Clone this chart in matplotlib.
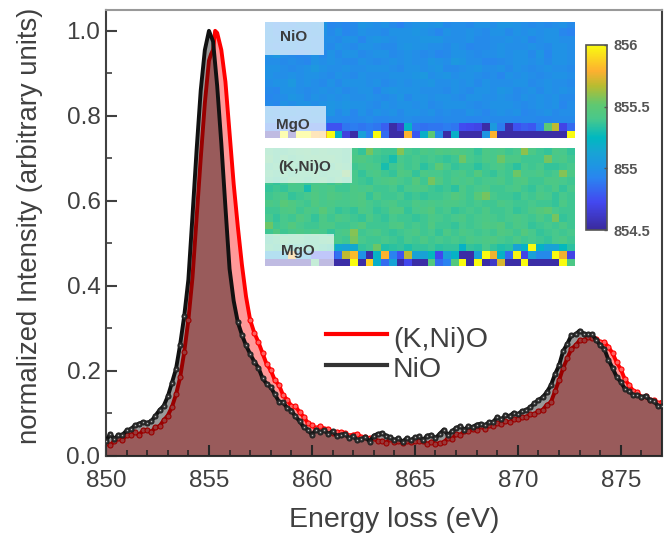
import numpy as np
import matplotlib
matplotlib.use('Agg')
import matplotlib.pyplot as plt
from matplotlib.colors import LinearSegmentedColormap
from matplotlib.patches import Rectangle
from matplotlib.ticker import MultipleLocator

plt.rcParams['font.family'] = ['Liberation Sans', 'DejaVu Sans']

# spectra
energy_nio = [850.0,850.2,850.4,850.6,850.8,851.0,851.2,851.4,851.6,851.8,852.0,852.2,852.4,852.6,852.8,853.0,853.2,853.4,853.6,853.8,
 854.0,854.2,854.4,854.6,854.8,855.0,855.2,855.4,855.6,855.8,856.0,856.2,856.4,856.6,856.8,857.0,857.2,857.4,857.6,857.8,
 858.0,858.2,858.4,858.6,858.8,859.0,859.2,859.4,859.6,859.8,860.0,860.2,860.4,860.6,860.8,861.0,861.2,861.4,861.6,861.8,
 862.0,862.2,862.4,862.6,862.8,863.0,863.2,863.4,863.6,863.8,864.0,864.2,864.4,864.6,864.8,865.0,865.2,865.4,865.6,865.8,
 866.0,866.2,866.4,866.6,866.8,867.0,867.2,867.4,867.6,867.8,868.0,868.2,868.4,868.6,868.8,869.0,869.2,869.4,869.6,869.8,
 870.0,870.2,870.4,870.6,870.8,871.0,871.2,871.4,871.6,871.8,872.0,872.2,872.4,872.6,872.8,873.0,873.2,873.4,873.6,873.8,
 874.0,874.2,874.4,874.6,874.8,875.0,875.2,875.4,875.6,875.8,876.0,876.2,876.4,876.6,876.8,877.0]
intensity_nio = [.035,.052,.04,.05,.05,.06,.063,.072,.076,.08,.078,.082,.095,.108,.118,.14,.172,.205,.262,.33,
 .415,.565,.72,.86,.955,1.0,.975,.87,.735,.585,.44,.365,.315,.285,.26,.24,.222,.208,.183,.17,
 .162,.145,.128,.126,.113,.107,.093,.082,.068,.062,.05,.062,.056,.06,.052,.058,.048,.05,.052,.042,
 .046,.038,.04,.044,.034,.048,.052,.054,.048,.044,.038,.042,.034,.042,.037,.044,.046,.038,.048,.05,
 .042,.052,.062,.05,.058,.066,.07,.062,.07,.068,.074,.076,.072,.08,.08,.092,.086,.096,.094,.102,
 .098,.106,.108,.115,.124,.132,.138,.15,.166,.192,.213,.247,.264,.284,.286,.295,.288,.286,.286,.274,
 .26,.252,.226,.207,.186,.174,.158,.152,.144,.144,.138,.142,.132,.13,.118,.117]
energy_kni = [850.0,850.2,850.4,850.6,850.8,851.0,851.2,851.4,851.6,851.8,852.0,852.2,852.4,852.6,852.8,853.0,853.2,853.4,853.6,853.8,
 854.0,854.2,854.4,854.6,854.8,855.0,855.1,855.2,855.3,855.4,855.6,855.8,856.0,856.2,856.4,856.6,856.8,857.0,857.2,857.4,857.6,857.8,
 858.0,858.2,858.4,858.6,858.8,859.0,859.2,859.4,859.6,859.8,860.0,860.2,860.4,860.6,860.8,861.0,861.2,861.4,861.6,861.8,
 862.0,862.2,862.4,862.6,862.8,863.0,863.2,863.4,863.6,863.8,864.0,864.2,864.4,864.6,864.8,865.0,865.2,865.4,865.6,865.8,
 866.0,866.2,866.4,866.6,866.8,867.0,867.2,867.4,867.6,867.8,868.0,868.2,868.4,868.6,868.8,869.0,869.2,869.4,869.6,869.8,
 870.0,870.2,870.4,870.6,870.8,871.0,871.2,871.4,871.6,871.8,872.0,872.2,872.4,872.6,872.8,873.0,873.2,873.4,873.6,873.8,
 874.0,874.2,874.4,874.6,874.8,875.0,875.2,875.4,875.6,875.8,876.0,876.2,876.4,876.6,876.8,877.0]
intensity_kni = [.03,.026,.035,.042,.038,.05,.05,.056,.05,.06,.062,.056,.068,.07,.084,.095,.115,.145,.185,.245,
 .32,.42,.56,.7,.83,.93,.945,.955,1.0,.995,.955,.88,.76,.64,.54,.45,.375,.32,.29,.268,.242,.216,
 .202,.178,.167,.143,.132,.118,.117,.103,.092,.078,.072,.065,.07,.064,.064,.054,.057,.056,.054,.048,
 .05,.052,.044,.044,.042,.042,.035,.036,.031,.04,.034,.036,.03,.036,.034,.035,.036,.036,.028,.034,
 .029,.03,.032,.042,.04,.052,.05,.058,.058,.064,.062,.07,.064,.072,.07,.078,.076,.082,.08,.086,
 .086,.092,.092,.098,.098,.106,.108,.12,.126,.152,.178,.207,.23,.252,.26,.272,.272,.279,.278,.276,
 .268,.268,.256,.242,.22,.204,.18,.167,.153,.15,.138,.14,.132,.132,.124,.127]

x_ticks = [850, 855, 860, 865, 870, 875]
y_ticks = [0.0, 0.2, 0.4, 0.6, 0.8, 1.0]

# peak positions maps, hundredths of eV above 854.5
map_nio = np.array([
 [48,44,48,46,50,48,50,52,44,46,44,46,52,50,48,50,46,42,48,50,52,50,52,46,48,48,46,50,50,48,52,52,50,48,46,48,46,48,50,46],
 [50,46,48,50,46,48,50,50,46,50,44,46,50,48,48,46,50,50,50,52,50,48,44,50,48,48,50,48,46,50,50,46,50,48,50,48,50,50,44,42],
 [50,48,50,50,48,50,48,48,48,46,50,50,44,50,52,50,48,50,50,50,52,52,52,48,48,48,50,46,46,48,48,50,48,50,44,48,50,50,48,48],
 [48,46,48,50,48,50,48,48,46,50,48,46,50,50,48,46,46,50,52,50,50,48,48,46,50,48,44,46,46,48,50,48,48,48,50,48,46,50,50,48],
 [50,54,48,46,44,46,50,46,50,46,50,50,46,48,50,50,46,48,50,48,46,48,44,46,50,50,48,46,48,48,50,48,50,50,46,52,44,50,50,48],
 [48,48,46,48,46,44,50,48,50,48,46,46,50,48,46,48,50,48,50,48,48,52,50,48,54,52,48,48,44,44,46,48,50,50,48,50,46,50,50,48],
 [50,50,48,46,48,50,54,50,48,48,50,48,48,50,50,50,48,46,50,50,48,50,52,46,46,48,50,52,48,48,50,46,50,48,46,48,50,48,48,46],
 [50,48,48,50,48,50,50,48,46,50,48,46,50,48,48,48,50,50,50,52,54,48,50,52,48,50,50,48,46,48,44,50,48,50,48,46,48,50,50,48],
 [48,50,50,54,48,50,48,46,50,46,50,50,50,48,50,46,48,50,48,50,50,52,48,48,50,48,50,46,50,48,48,48,50,50,46,48,50,48,48,46],
 [46,44,50,50,48,46,48,50,48,50,46,48,50,50,44,50,52,50,50,50,48,48,48,46,50,48,46,50,50,48,52,50,46,48,50,46,50,48,50,48],
 [44,46,48,52,50,46,50,48,50,48,50,48,48,50,48,46,48,52,46,50,50,48,50,50,48,46,50,50,48,48,50,48,46,50,48,50,48,50,46,46],
 [46,44,50,48,50,50,48,50,52,50,52,50,50,48,46,50,48,50,50,48,50,46,48,50,50,50,48,46,48,50,50,50,48,46,48,50,48,50,44,48],
 [50,48,50,50,48,48,50,50,52,46,50,44,50,46,50,48,50,46,50,50,48,50,46,48,46,46,50,48,44,48,50,48,50,44,46,48,50,46,48,48],
 [48,46,48,46,46,48,48,48,46,46,44,44,46,48,44,44,46,46,48,46,46,46,44,46,46,46,44,44,46,46,46,46,44,46,46,44,44,46,46,46],
 [38,38,38,36,38,38,36,36,26,26,38,40,38,40,38,30,3,15,72,38,36,38,38,40,38,24,22,20,3,56,40,5,26,30,28,40,100,118,20,34],
 [3,3,150,3,150,150,130,128,150,70,18,3,60,42,150,34,3,3,130,28,70,100,48,3,70,3,3,3,52,130,3,3,3,3,3,3,3,3,3,150]])
map_kni = np.array([
 [90,88,88,90,92,94,90,92,90,90,88,90,86,106,90,88,88,108,90,88,92,90,94,92,94,92,90,86,92,90,92,88,90,110,92,88,86,92,90,86],
 [94,88,92,88,90,92,94,92,94,90,88,92,94,90,88,86,80,90,88,90,88,90,88,86,88,104,90,88,92,90,104,92,92,88,88,88,106,90,92,88],
 [88,90,88,90,88,90,88,88,88,94,90,88,90,92,90,80,88,92,88,90,84,88,100,90,86,88,88,84,88,90,92,88,84,90,88,90,86,86,88,90],
 [90,88,92,88,90,90,92,88,90,90,104,90,86,90,92,88,86,94,92,86,92,90,90,88,90,92,88,96,88,86,90,88,104,90,90,92,88,90,108,92],
 [88,86,88,92,90,88,90,92,88,92,88,90,88,86,90,92,94,90,88,96,88,106,94,88,92,90,92,88,90,90,92,88,92,94,88,88,92,92,90,88],
 [86,88,86,90,90,80,92,90,92,88,88,92,90,92,88,88,90,86,90,92,92,88,86,88,84,92,88,90,92,88,88,90,92,88,86,90,88,92,86,90],
 [88,90,92,86,88,90,94,90,94,92,90,92,94,86,92,88,88,90,86,88,86,88,88,90,96,92,88,98,106,90,88,88,86,90,88,92,90,86,90,88],
 [92,90,98,94,90,88,94,90,92,90,90,92,94,90,88,90,92,88,88,92,90,92,90,92,92,90,88,90,88,88,92,90,88,88,90,88,88,86,92,88],
 [88,88,92,94,88,92,90,98,90,86,88,86,92,90,86,88,94,94,86,90,92,96,88,90,86,88,90,88,92,88,88,90,86,88,92,96,100,90,88,88],
 [90,86,90,88,94,90,86,92,88,92,90,88,86,92,88,86,90,88,88,86,88,92,90,88,90,92,88,90,92,90,88,90,92,90,88,92,88,106,86,88],
 [104,88,90,96,90,88,88,92,92,88,88,90,96,88,88,88,92,94,88,90,88,94,88,88,86,90,88,90,94,92,96,88,92,90,86,88,90,88,92,88],
 [88,94,88,90,92,90,92,90,86,90,92,108,88,90,92,88,86,88,90,92,88,90,86,92,88,92,90,88,90,88,94,92,88,96,90,86,88,90,88,90],
 [86,88,92,90,90,88,88,90,92,90,88,106,90,88,88,90,88,86,90,88,92,88,90,88,90,88,92,90,92,94,90,88,92,88,90,88,86,90,92,88],
 [88,86,88,84,86,86,88,86,84,66,62,66,86,88,104,82,84,86,82,86,86,88,84,86,86,72,86,84,90,86,82,84,62,72,150,72,62,62,76,84],
 [62,62,64,128,60,62,26,26,26,36,118,132,50,3,72,130,42,26,118,62,62,76,22,60,72,3,3,60,150,126,72,35,148,20,60,46,46,150,126,20],
 [3,3,3,3,3,3,92,3,3,3,3,150,3,138,70,34,62,3,22,3,3,96,34,42,96,150,3,150,3,12,122,3,3,150,3,3,3,3,150,92]])

cbar_ticks = [854.5, 855, 855.5, 856]
cbar_labels = ['854.5', '855', '855.5', '856']
parula = LinearSegmentedColormap.from_list('parula_like', [
 (0.0, '#3a2a9c'), (0.15, '#4348f0'), (0.28, '#2a84f0'), (0.34, '#1f94e4'), (0.42, '#18a4d4'), (0.5, '#00b8c0'),
 (0.6, '#48c88c'), (0.68, '#60c870'), (0.78, '#b8bc30'), (0.86, '#fdb030'), (1.0, '#f9fb10')])

W, H = 672, 533
fig = plt.figure(figsize=(W / 100, H / 100), dpi=100)

def px_axes(x0, y0, x1, y1):
    return fig.add_axes([x0 / W, 1 - y1 / H, (x1 - x0) / W, (y1 - y0) / H])

ax = px_axes(106, 10, 662, 456)
dark = '#404040'

e_kni, i_kni = np.array(energy_kni), np.array(intensity_kni)
e_nio, i_nio = np.array(energy_nio), np.array(intensity_nio)
tail_kni = i_kni < 0.35
tail_nio = i_nio < 0.35

ax.fill_between(e_kni, i_kni, 0, color='#ff0000', alpha=0.4, lw=0, zorder=1)
ax.plot(e_kni, i_kni, color='#ff0000', lw=2.8, zorder=2)
ax.plot(e_kni[tail_kni], i_kni[tail_kni], ls='none', marker='o', ms=3.6, mec='#ff0000', mfc='#ff6060', mew=0.8, zorder=2)
ax.fill_between(e_nio, i_nio, 0, color='#000000', alpha=0.4, lw=0, zorder=3)
ax.plot(e_nio, i_nio, color='#111111', lw=2.8, zorder=4)
ax.plot(e_nio[tail_nio], i_nio[tail_nio], ls='none', marker='o', ms=3.6, mec='#222222', mfc='#333333', mew=0.8, zorder=4)
ax.plot(e_nio[tail_nio], i_nio[tail_nio], ls='none', marker='o', ms=1.0, color='#bbbbbb', mew=0, zorder=5)

ax.set_xlim(850, 877)
ax.set_ylim(0, 1.049)
ax.set_xticks(x_ticks)
ax.set_yticks(y_ticks)
ax.set_yticklabels(['%.1f' % v for v in y_ticks])
ax.xaxis.set_minor_locator(MultipleLocator(1))
ax.yaxis.set_minor_locator(MultipleLocator(0.1))
ax.tick_params(which='major', direction='in', length=8, width=1.5, color=dark, labelcolor=dark, labelsize=17.5, pad=4)
ax.tick_params(axis='x', which='major', pad=10)
ax.tick_params(which='minor', direction='in', length=4, width=1.2, color=dark)
for s in ax.spines.values():
    s.set_linewidth(1.5)
    s.set_color(dark)
ax.spines['top'].set_color('#999999')
ax.set_xlabel('Energy loss (eV)', fontsize=20.5, color=dark, va='center')
ax.xaxis.set_label_coords(0.518, -0.143)
ax.set_ylabel('normalized Intensity (arbitrary units)', fontsize=19.8, color=dark, va='center')
ax.yaxis.set_label_coords(-0.136, 0.517)

# legend drawn by hand, the two lines sit inside the plot
ax.plot([860.68, 863.65], [0.2875, 0.2875], color='#ff0000', lw=3, zorder=6)
ax.plot([860.68, 863.65], [0.213, 0.213], color='#333333', lw=3, zorder=6)
ax.text(863.94, 0.2735, '(K,Ni)O', fontsize=20.5, color=dark, va='center', zorder=6)
ax.text(863.94, 0.2015, 'NiO', fontsize=20.5, color=dark, va='center', zorder=6)

def heat(box, data, boxes, labels):
    a = px_axes(*box)
    im = a.imshow(data, cmap=parula, vmin=0, vmax=150, aspect='auto', interpolation='nearest')
    a.axis('off')
    bw = (box[2] - box[0]) / data.shape[1]
    bh = (box[3] - box[1]) / data.shape[0]
    for x0, y0, x1, y1 in boxes:
        a.add_patch(Rectangle(((x0 - box[0]) / bw - 0.5, (y0 - box[1]) / bh - 0.5),
                              (x1 - x0) / bw, (y1 - y0) / bh, fc='white', ec='none', alpha=0.68))
    for x, y, t in labels:
        a.text((x - box[0]) / bw - 0.5, (y - box[1]) / bh - 0.5, t, fontsize=11, fontweight='bold',
               color='#3c3c3c', ha='center', va='center')
    return im

im = heat((265, 21.5, 574.5, 137.5), map_nio,
          [(265, 21.5, 323.5, 54.5), (265, 106, 326, 137.5)],
          [(293.5, 37, 'NiO'), (293, 124.5, 'MgO')])
heat((265, 148, 574.5, 266), map_kni,
     [(265, 148, 352, 183), (265, 233.5, 334, 266)],
     [(305, 167, '(K,Ni)O'), (298, 251, 'MgO')])

cax = px_axes(586, 45, 607, 230)
cb = fig.colorbar(im, cax=cax)
cb.mappable.set_clim(0, 150)
cb.set_ticks([(v - 854.5) * 100 for v in cbar_ticks])
cb.set_ticklabels(cbar_labels)
cb.ax.tick_params(direction='in', length=2, width=1, color='#555555', labelcolor='#555555', labelsize=10.5, pad=5)
for t in cb.ax.get_yticklabels():
    t.set_fontweight('bold')
cb.outline.set_edgecolor('#555555')
cb.outline.set_linewidth(1.2)

fig.savefig('out.png', dpi=100)
